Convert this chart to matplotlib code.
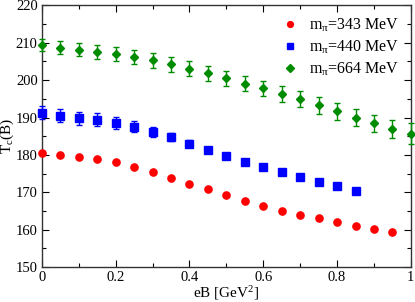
import matplotlib
matplotlib.use("Agg")
import matplotlib.pyplot as plt
from matplotlib.ticker import MultipleLocator
from matplotlib.lines import Line2D

plt.rcParams['font.family'] = ['Liberation Serif', 'DejaVu Serif']
plt.rcParams['mathtext.fontset'] = 'custom'
plt.rcParams['mathtext.rm'] = 'Liberation Serif'
plt.rcParams['mathtext.it'] = 'Liberation Serif'

eB = [0.0, 0.05, 0.1, 0.15, 0.2, 0.25, 0.3, 0.35, 0.4, 0.45, 0.5,
      0.55, 0.6, 0.65, 0.7, 0.75, 0.8, 0.85, 0.9, 0.95, 1.0]

# m_pi = 343 MeV
x343 = eB[:20]
t343 = [180.5, 180.0, 179.5, 178.9, 178.0, 176.7, 175.3, 173.8, 172.3, 170.8,
        169.3, 167.7, 166.4, 165.1, 164.0, 163.0, 162.0, 161.0, 160.1, 159.4]
e343 = [0.3] * 20

# m_pi = 440 MeV
x440 = eB[:18]
t440 = [191.3, 190.5, 189.8, 189.4, 188.5, 187.5, 186.1, 184.7, 183.0, 181.3,
        179.7, 178.2, 176.7, 175.3, 174.0, 172.8, 171.7, 170.4]
e440 = [1.8, 1.8, 1.7, 1.7, 1.6, 1.5, 1.3, 1.1, 0.9, 0.6,
        0.5, 0.4, 0.4, 0.4, 0.4, 0.3, 0.3, 0.3]

# m_pi = 664 MeV
x664 = eB
t664 = [209.3, 208.7, 208.2, 207.6, 207.0, 206.2, 205.3, 204.2, 203.0, 201.9,
        200.5, 199.1, 197.8, 196.3, 195.0, 193.3, 191.7, 190.0, 188.4, 186.9, 185.7]
e664 = [1.6, 1.8, 1.8, 1.9, 1.9, 2.0, 2.0, 2.0, 2.0, 2.0,
        2.0, 2.1, 2.1, 2.2, 2.2, 2.3, 2.3, 2.4, 2.4, 2.4, 2.7]

labels = [r'm$_\pi$=343 MeV', r'm$_\pi$=440 MeV', r'm$_\pi$=664 MeV']
colors = ['#ff0000', '#0000ff', '#008c00']
markers = ['o', 's', 'D']

fig = plt.figure(figsize=(4.15, 3.02), dpi=100)
ax = fig.add_axes([0.101, 0.116, 0.889, 0.866])

series = [(x343, t343, e343), (x440, t440, e440), (x664, t664, e664)]
msizes = [5.2, 5.2, 4.4]
for (x, y, e), c, m, ms in zip(series, colors, markers, msizes):
    ax.errorbar(x, y, yerr=e, fmt=m, color=c, ms=ms, mec=c,
                ecolor=c, elinewidth=1.0, capsize=2.5, capthick=1.0,
                clip_on=False, zorder=3)

ax.set_xlim(0, 1)
ax.set_ylim(150, 220)
ax.xaxis.set_major_locator(MultipleLocator(0.2))
ax.xaxis.set_minor_locator(MultipleLocator(0.1))
ax.yaxis.set_major_locator(MultipleLocator(10))
ax.yaxis.set_minor_locator(MultipleLocator(5))
ax.set_xticks([0, 0.2, 0.4, 0.6, 0.8, 1.0])
ax.set_xticklabels(['0', '0.2', '0.4', '0.6', '0.8', '1'])
ax.tick_params(which='both', direction='in', top=True, right=True, labelsize=10.5, pad=3)
ax.tick_params(which='major', length=5, width=0.8)
ax.tick_params(which='minor', length=3, width=0.8)
for s in ax.spines.values():
    s.set_linewidth(1.0)
    s.set_color('#333333')

ax.set_xlabel(r'eB [GeV$^2$]', fontsize=11, labelpad=0)
ax.set_ylabel(r'T$_c$(B)', fontsize=11)
ax.yaxis.set_label_coords(-0.07, 0.5)

handles = [Line2D([], [], linestyle='none', marker=m, color=c, ms=4.2)
           for m, c in zip(markers, colors)]
ax.legend(handles, labels, loc='upper right', frameon=False, fontsize=11.5,
          handletextpad=0.6, borderaxespad=0.3, labelspacing=0.3,
          handlelength=1.2)

fig.savefig('out.png', dpi=100)
